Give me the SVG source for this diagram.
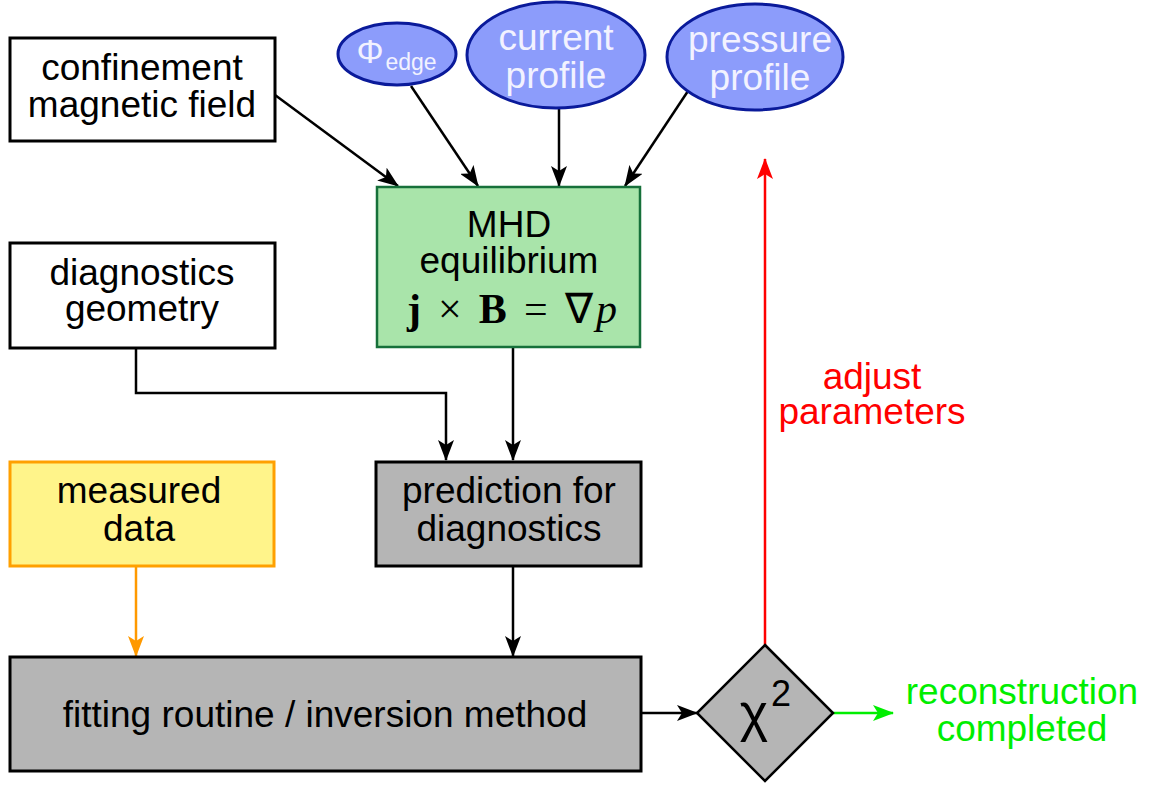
<svg xmlns="http://www.w3.org/2000/svg" width="1159" height="785" viewBox="0 0 1159 785">
<style>
.t{font-family:"Liberation Sans",Arial,sans-serif;font-size:37px;text-anchor:middle;fill:#000}
.w{fill:#f2f2ff}
.box{stroke:#000;stroke-width:3}
.ell{fill:#8c9cfb;stroke:#0a1a9a;stroke-width:3}
.c{fill:none;stroke:#000;stroke-width:2.5}
</style>
<defs>
<marker id="ak" markerUnits="userSpaceOnUse" markerWidth="22" markerHeight="16" refX="20" refY="8" orient="auto"><path d="M0,0 L21,8 L0,16 L5,8 Z" fill="#000"/></marker>
<marker id="ao" markerUnits="userSpaceOnUse" markerWidth="22" markerHeight="16" refX="20" refY="8" orient="auto"><path d="M0,0 L21,8 L0,16 L5,8 Z" fill="#ff9900"/></marker>
<marker id="ar" markerUnits="userSpaceOnUse" markerWidth="22" markerHeight="16" refX="20" refY="8" orient="auto"><path d="M0,0 L21,8 L0,16 L5,8 Z" fill="#ff0000"/></marker>
<marker id="ag" markerUnits="userSpaceOnUse" markerWidth="22" markerHeight="16" refX="20" refY="8" orient="auto"><path d="M0,0 L21,8 L0,16 L5,8 Z" fill="#00ee00"/></marker>
</defs>
<rect width="1159" height="785" fill="#fff"/>
<g id="connectors">
<path class="c" d="M275,95 L398,186" marker-end="url(#ak)"/>
<path class="c" d="M411,86 L478,186" marker-end="url(#ak)"/>
<path class="c" d="M559,108 L559,186" marker-end="url(#ak)"/>
<path class="c" d="M688,91 L625,186" marker-end="url(#ak)"/>
<path class="c" d="M136,348 L136,393 L446,393 L446,460" marker-end="url(#ak)"/>
<path class="c" d="M513,347 L513,460" marker-end="url(#ak)"/>
<path class="c" d="M513,566 L513,656" marker-end="url(#ak)"/>
<path class="c" d="M136,566 L136,656" style="stroke:#ff9900" marker-end="url(#ao)"/>
<path class="c" d="M641,713 L697,713" marker-end="url(#ak)"/>
<path class="c" d="M765,645 L765,159" style="stroke:#ff0000" marker-end="url(#ar)"/>
<path class="c" d="M833,713 L893,713" style="stroke:#00ee00" marker-end="url(#ag)"/>
<text class="t" x="872" y="389" style="fill:#ff0000">adjust</text>
<text class="t" x="872" y="424" style="fill:#ff0000">parameters</text>
<text class="t" x="1022" y="704" style="fill:#00ee00">reconstruction</text>
<text class="t" x="1022" y="741" style="fill:#00ee00">completed</text>
</g>
<g id="confinement">
<rect class="box" x="10" y="38" width="265" height="103" fill="#fff"/>
<text class="t" x="142" y="80">confinement</text>
<text class="t" x="142" y="117">magnetic field</text>
</g>
<g id="phi_edge">
<ellipse class="ell" cx="397" cy="54" rx="59" ry="31"/>
<text class="t w" x="370" y="63" style="font-size:34px">Φ</text>
<text class="t w" x="411" y="70" style="font-size:23px">edge</text>
</g>
<g id="current">
<ellipse class="ell" cx="556" cy="55" rx="89" ry="53"/>
<text class="t w" x="556" y="50">current</text>
<text class="t w" x="556" y="88">profile</text>
</g>
<g id="pressure">
<ellipse class="ell" cx="755" cy="57" rx="88" ry="53"/>
<text class="t w" x="760" y="52">pressure</text>
<text class="t w" x="760" y="90">profile</text>
</g>
<g id="mhd">
<rect x="377" y="187" width="263" height="160" fill="#a9e4aa" stroke="#16703a" stroke-width="2.5"/>
<text class="t" x="509" y="237">MHD</text>
<text class="t" x="509" y="273">equilibrium</text>
<text x="512" y="323" textLength="210" lengthAdjust="spacing" style="font-family:'Liberation Serif','Times New Roman',serif;font-size:42px;text-anchor:middle"><tspan font-weight="bold">j</tspan> × <tspan font-weight="bold">B</tspan> = ∇<tspan font-style="italic">p</tspan></text>
</g>
<g id="diag_geometry">
<rect class="box" x="10" y="243" width="265" height="105" fill="#fff"/>
<text class="t" x="142" y="285">diagnostics</text>
<text class="t" x="142" y="321">geometry</text>
</g>
<g id="measured">
<rect x="10" y="462" width="264" height="104" fill="#fff48a" stroke="#ffa000" stroke-width="3"/>
<text class="t" x="139" y="503">measured</text>
<text class="t" x="139" y="541">data</text>
</g>
<g id="prediction">
<rect class="box" x="376" y="462" width="265" height="104" fill="#b5b5b5"/>
<text class="t" x="509" y="503">prediction for</text>
<text class="t" x="509" y="541">diagnostics</text>
</g>
<g id="fitting">
<rect class="box" x="10" y="657" width="631" height="114" fill="#b5b5b5"/>
<text class="t" x="325" y="727">fitting routine / inversion method</text>
</g>
<g id="chi2">
<polygon points="765,645 833,713 765,781 697,713" fill="#b5b5b5" stroke="#000" stroke-width="2.5"/>
<text class="t" x="754" y="731" style="font-size:54px">χ</text>
<text class="t" x="781" y="706" style="font-size:36px">2</text>
</g>
</svg>
